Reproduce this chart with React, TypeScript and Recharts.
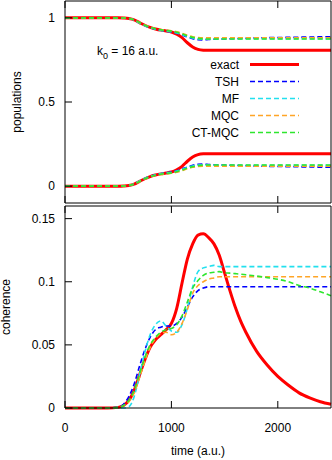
import { LineChart, Line, XAxis, YAxis, Legend } from "recharts"

// time grid (a.u.)
const time = [0, 200, 400, 500, 550, 600, 650, 700, 750, 800, 850, 900, 950, 1000, 1050, 1100, 1150, 1200, 1250, 1300, 1350, 1400, 1450, 1500, 1550, 1600, 1650, 1700, 1800, 1900, 2000, 2100, 2200, 2300, 2400, 2500]

// populations, state starting at 1
const exactUp = [1, 1, 1, 1, 0.999, 0.996, 0.988, 0.972, 0.956, 0.943, 0.934, 0.927, 0.922, 0.916, 0.903, 0.882, 0.852, 0.827, 0.813, 0.808, 0.807, 0.807, 0.807, 0.807, 0.807, 0.807, 0.807, 0.807, 0.807, 0.807, 0.807, 0.807, 0.807, 0.807, 0.807, 0.807]
const tshUp = [1, 1, 1, 1, 0.999, 0.996, 0.987, 0.97, 0.954, 0.942, 0.933, 0.926, 0.921, 0.916, 0.909, 0.898, 0.886, 0.876, 0.87, 0.869, 0.871, 0.873, 0.874, 0.875, 0.876, 0.877, 0.878, 0.879, 0.881, 0.882, 0.883, 0.884, 0.885, 0.886, 0.887, 0.888]
const mfUp = [1, 1, 1, 1, 0.999, 0.996, 0.986, 0.969, 0.953, 0.941, 0.932, 0.925, 0.921, 0.917, 0.91, 0.9, 0.889, 0.88, 0.874, 0.873, 0.874, 0.875, 0.875, 0.876, 0.876, 0.876, 0.876, 0.876, 0.876, 0.876, 0.876, 0.876, 0.876, 0.876, 0.876, 0.876]
const mqcUp = [1, 1, 1, 1, 0.999, 0.996, 0.988, 0.972, 0.957, 0.945, 0.937, 0.931, 0.927, 0.923, 0.917, 0.908, 0.897, 0.888, 0.883, 0.881, 0.881, 0.881, 0.881, 0.882, 0.882, 0.882, 0.882, 0.882, 0.882, 0.882, 0.882, 0.882, 0.882, 0.882, 0.882, 0.882]
const ctUp = [1, 1, 1, 1, 0.999, 0.996, 0.988, 0.972, 0.956, 0.944, 0.935, 0.929, 0.925, 0.921, 0.914, 0.904, 0.893, 0.884, 0.878, 0.875, 0.874, 0.874, 0.874, 0.874, 0.874, 0.874, 0.874, 0.874, 0.874, 0.874, 0.874, 0.874, 0.874, 0.874, 0.874, 0.874]

// populations, state starting at 0
const exactLow = [0, 0, 0, 0, 0.001, 0.004, 0.012, 0.028, 0.044, 0.057, 0.066, 0.073, 0.078, 0.084, 0.097, 0.118, 0.148, 0.173, 0.187, 0.192, 0.193, 0.193, 0.193, 0.193, 0.193, 0.193, 0.193, 0.193, 0.193, 0.193, 0.193, 0.193, 0.193, 0.193, 0.193, 0.193]
const tshLow = [0, 0, 0, 0, 0.001, 0.004, 0.013, 0.03, 0.046, 0.058, 0.067, 0.074, 0.079, 0.084, 0.091, 0.102, 0.114, 0.124, 0.13, 0.131, 0.129, 0.127, 0.126, 0.125, 0.124, 0.123, 0.122, 0.121, 0.119, 0.118, 0.117, 0.116, 0.115, 0.114, 0.113, 0.112]
const mfLow = [0, 0, 0, 0, 0.001, 0.004, 0.014, 0.031, 0.047, 0.059, 0.068, 0.075, 0.079, 0.083, 0.09, 0.1, 0.111, 0.12, 0.126, 0.127, 0.126, 0.125, 0.125, 0.124, 0.124, 0.124, 0.124, 0.124, 0.124, 0.124, 0.124, 0.124, 0.124, 0.124, 0.124, 0.124]
const mqcLow = [0, 0, 0, 0, 0.001, 0.004, 0.012, 0.028, 0.043, 0.055, 0.063, 0.069, 0.073, 0.077, 0.083, 0.092, 0.103, 0.112, 0.117, 0.119, 0.119, 0.119, 0.119, 0.118, 0.118, 0.118, 0.118, 0.118, 0.118, 0.118, 0.118, 0.118, 0.118, 0.118, 0.118, 0.118]
const ctLow = [0, 0, 0, 0, 0.001, 0.004, 0.012, 0.028, 0.044, 0.056, 0.065, 0.071, 0.075, 0.079, 0.086, 0.096, 0.107, 0.116, 0.122, 0.125, 0.126, 0.126, 0.126, 0.126, 0.126, 0.126, 0.126, 0.126, 0.126, 0.126, 0.126, 0.126, 0.126, 0.126, 0.126, 0.126]

// coherence
const exactCoh = [0, 0, 0, 0.0005, 0.002, 0.006, 0.014, 0.026, 0.038, 0.048, 0.054, 0.058, 0.062, 0.067, 0.079, 0.099, 0.118, 0.13, 0.137, 0.138, 0.135, 0.13, 0.121, 0.107, 0.093, 0.08, 0.069, 0.06, 0.045, 0.034, 0.025, 0.018, 0.012, 0.008, 0.005, 0.003]
const tshCoh = [0, 0, 0, 0.001, 0.003, 0.009, 0.019, 0.033, 0.046, 0.056, 0.062, 0.064, 0.065, 0.065, 0.067, 0.072, 0.08, 0.088, 0.093, 0.095, 0.096, 0.096, 0.096, 0.096, 0.096, 0.096, 0.096, 0.096, 0.096, 0.096, 0.096, 0.096, 0.096, 0.096, 0.096, 0.096]
const mfCoh = [0, 0, 0, 0, 0, 0.001, 0.009, 0.026, 0.044, 0.058, 0.066, 0.069, 0.065, 0.061, 0.06, 0.066, 0.079, 0.096, 0.108, 0.111, 0.112, 0.113, 0.112, 0.112, 0.112, 0.112, 0.112, 0.112, 0.112, 0.112, 0.112, 0.112, 0.112, 0.112, 0.112, 0.112]
const mqcCoh = [0, 0, 0, 0.0005, 0.002, 0.005, 0.012, 0.024, 0.037, 0.048, 0.055, 0.059, 0.06, 0.058, 0.06, 0.067, 0.078, 0.091, 0.097, 0.1, 0.102, 0.103, 0.104, 0.104, 0.104, 0.104, 0.104, 0.104, 0.104, 0.104, 0.104, 0.104, 0.104, 0.104, 0.104, 0.104]
const ctCoh = [0, 0, 0, 0.0005, 0.002, 0.006, 0.014, 0.027, 0.04, 0.05, 0.056, 0.06, 0.062, 0.063, 0.066, 0.073, 0.084, 0.095, 0.101, 0.105, 0.107, 0.1075, 0.108, 0.107, 0.1068, 0.1064, 0.106, 0.1055, 0.1045, 0.1033, 0.102, 0.1, 0.097, 0.095, 0.092, 0.089]

const names = ["exact", "TSH", "MF", "MQC", "CT-MQC"]
const upper = [exactUp, tshUp, mfUp, mqcUp, ctUp]
const lower = [exactLow, tshLow, mfLow, mqcLow, ctLow]
const coherence = [exactCoh, tshCoh, mfCoh, mqcCoh, ctCoh]

const timeTicks = [0, 1000, 2000]
const popTicks = [0, 0.5, 1]
const cohTicks = [0, 0.05, 0.1, 0.15]

const styles: Record<string, { color: string; width: number; dash?: string }> = {
  exact: { color: "#ff0000", width: 3 },
  TSH: { color: "#0000ff", width: 1.6, dash: "5 3" },
  MF: { color: "#22e0ee", width: 1.6, dash: "5 3" },
  MQC: { color: "#ffa526", width: 1.6, dash: "5 3" },
  "CT-MQC": { color: "#2ee62e", width: 1.6, dash: "5 3" },
}

const popRows = time.map((t, i) => {
  const row: Record<string, number> = { t }
  names.forEach((n, j) => {
    row[n + "_up"] = upper[j][i]
    row[n + "_low"] = lower[j][i]
  })
  return row
})

const cohRows = time.map((t, i) => {
  const row: Record<string, number> = { t }
  names.forEach((n, j) => {
    row[n] = coherence[j][i]
  })
  return row
})

const font = '"Liberation Sans", Arial, sans-serif'
const tickStyle = { fontSize: 12, fill: "#000", fontFamily: font }
const axisLine = { stroke: "#000", strokeWidth: 1 }
// tick marks without labels (tick={false} would drop the marks too)
const noLabel = () => <g />

const yTitle = (text: string, baseX: number, fallbackY: number) => (props: any) => {
  const vb = props && props.viewBox
  const cy = vb && typeof vb.y === "number" ? vb.y + vb.height / 2 : fallbackY
  return (
    <text x={baseX} y={cy} transform={`rotate(-90 ${baseX} ${cy})`} textAnchor="middle" fontSize={12} fill="#000" fontFamily={font}>
      {text}
    </text>
  )
}

const renderLegend = (props: any) => {
  const items = (props.payload || [])
    .filter((p: any) => p.type !== "none" && styles[p.value])
    .sort((a: any, b: any) => names.indexOf(a.value) - names.indexOf(b.value))
  return (
    <svg width={130} height={90} style={{ display: "block" }}>
      {items.map((p: any, i: number) => {
        const s = styles[p.value]
        const cy = 9.5 + i * 17
        return (
          <g key={p.value}>
            <text x={59} y={cy + 4.3} textAnchor="end" fontSize={12} fill="#000" fontFamily={font}>
              {p.value}
            </text>
            <line x1={70} x2={119} y1={cy} y2={cy} stroke={s.color} strokeWidth={s.width} strokeDasharray={s.dash} />
          </g>
        )
      })}
    </svg>
  )
}

function lineProps(n: string) {
  const s = styles[n]
  return {
    type: "monotone" as const,
    stroke: s.color,
    strokeWidth: s.width,
    strokeDasharray: s.dash,
    dot: false,
    activeDot: false,
    isAnimationActive: false,
  }
}

export default function App() {
  return (
    <div style={{ position: "absolute", left: 0, top: 0, width: 332, height: 460, background: "#fff", fontFamily: font }}>
      <div style={{ position: "absolute", left: 0, top: 0 }}>
        <LineChart width={332} height={204} data={popRows} margin={{ top: 0, right: 0, bottom: 0, left: 0 }}>
          <XAxis dataKey="t" type="number" domain={[0, 2500]} ticks={timeTicks} height={1} tick={noLabel}
            tickSize={-7} axisLine={axisLine} tickLine={axisLine} />
          <XAxis xAxisId="top" orientation="top" dataKey="t" type="number" domain={[0, 2500]} ticks={timeTicks}
            height={1} tick={noLabel} tickSize={-7} axisLine={axisLine} tickLine={axisLine} />
          <YAxis type="number" domain={[-0.1, 1.1]} ticks={popTicks} width={65} tickSize={-7} tickMargin={17}
            tick={tickStyle} axisLine={axisLine} tickLine={axisLine}
            label={{ value: "populations", content: yTitle("populations", 21, 102) }} />
          <YAxis yAxisId="r" orientation="right" type="number" domain={[-0.1, 1.1]} ticks={popTicks} width={1}
            tick={noLabel} tickSize={-7} axisLine={axisLine} tickLine={axisLine} />
          {names.flatMap((n) => [
            <Line key={n + "_up"} dataKey={n + "_up"} name={n} {...lineProps(n)} />,
            <Line key={n + "_low"} dataKey={n + "_low"} name={n + " "} legendType="none" {...lineProps(n)} />,
          ])}
          <Legend layout="horizontal" verticalAlign="middle" align="center" content={renderLegend}
            wrapperStyle={{ left: 180, top: 55, width: 130, height: 90 }} />
        </LineChart>
      </div>
      <div style={{ position: "absolute", left: 0, top: 205 }}>
        <LineChart width={332} height={255} data={cohRows} margin={{ top: 0, right: 0, bottom: 0, left: 0 }}>
          <XAxis dataKey="t" type="number" domain={[0, 2500]} ticks={timeTicks} height={52} tickSize={-7}
            tickMargin={22} tick={tickStyle} axisLine={axisLine} tickLine={axisLine}
            label={{ value: "time (a.u.)", position: "insideBottom", offset: 5, fontSize: 12, fill: "#000" }} />
          <XAxis xAxisId="top" orientation="top" dataKey="t" type="number" domain={[0, 2500]} ticks={timeTicks}
            height={1} tick={noLabel} tickSize={-7} axisLine={axisLine} tickLine={axisLine} />
          <YAxis type="number" domain={[0, 0.16]} ticks={cohTicks} width={65} tickSize={-7} tickMargin={17}
            tick={tickStyle} axisLine={axisLine} tickLine={axisLine}
            label={{ value: "coherence", content: yTitle("coherence", 10, 307) }} />
          <YAxis yAxisId="r" orientation="right" type="number" domain={[0, 0.16]} ticks={cohTicks} width={1}
            tick={noLabel} tickSize={-7} axisLine={axisLine} tickLine={axisLine} />
          {names.map((n) => (
            <Line key={n} dataKey={n} name={n} {...lineProps(n)} />
          ))}
        </LineChart>
      </div>
      <svg width={332} height={80} style={{ position: "absolute", left: 0, top: 0, pointerEvents: "none" }}>
        <text x={97} y={55} fontSize={12} fill="#000" fontFamily={font}>
          k<tspan dy={4} fontSize={9}>0</tspan>
          <tspan dy={-4}> = 16 a.u.</tspan>
        </text>
      </svg>
    </div>
  )
}
